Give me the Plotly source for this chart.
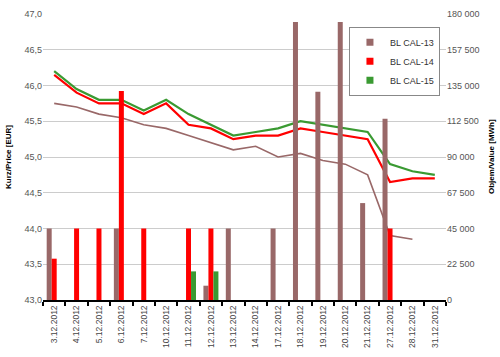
import plotly.graph_objects as go

dates = ["3.12.2012", "4.12.2012", "5.12.2012", "6.12.2012", "7.12.2012",
         "10.12.2012", "11.12.2012", "12.12.2012", "13.12.2012", "14.12.2012",
         "17.12.2012", "18.12.2012", "19.12.2012", "20.12.2012", "21.12.2012",
         "27.12.2012", "28.12.2012", "31.12.2012"]

price_cal13 = [45.75, 45.70, 45.60, 45.55, 45.45, 45.40, 45.30, 45.20, 45.10,
               45.15, 45.00, 45.05, 44.95, 44.90, 44.75, 43.90, 43.85, None]
price_cal14 = [46.15, 45.90, 45.75, 45.75, 45.60, 45.75, 45.45, 45.40, 45.25,
               45.30, 45.30, 45.40, 45.35, 45.30, 45.25, 44.65, 44.70, 44.70]
price_cal15 = [46.20, 45.95, 45.80, 45.80, 45.65, 45.80, 45.60, 45.45, 45.30,
               45.35, 45.40, 45.50, 45.45, 45.40, 45.35, 44.90, 44.80, 44.75]

vol_cal13 = [45000, None, None, 45000, None, None, None, 9000, 45000, None,
             45000, 175000, 131000, 175000, 61000, 114000, None, None]
vol_cal14 = [26000, 45000, 45000, 131500, 45000, None, 45000, 45000, None, None,
             None, None, None, None, None, 45000, None, None]
vol_cal15 = [None, None, None, None, None, None, 18000, 18000, None, None,
             None, None, None, None, None, None, None, None]

names = ["BL CAL-13", "BL CAL-14", "BL CAL-15"]
colors = ["#996868", "#ff0000", "#3a9a32"]
prices = [price_cal13, price_cal14, price_cal15]
vols = [vol_cal13, vol_cal14, vol_cal15]
widths = [1.6, 2.2, 2.2]

FONT = "Liberation Sans, Arial, sans-serif"

fig = go.Figure()

# lines (left axis)
for n, c, p, w in zip(names, colors, prices, widths):
    fig.add_trace(go.Scatter(x=dates, y=p, mode="lines", name=n,
                             line=dict(color=c, width=w), showlegend=False,
                             yaxis="y", connectgaps=False))

# bars (right axis)
for n, c, v in zip(names, colors, vols):
    fig.add_trace(go.Bar(x=dates, y=v, name=n, marker=dict(color=c, line=dict(width=0)),
                         showlegend=False, yaxis="y2"))

# legend entries (square markers)
for n, c in zip(names, colors):
    fig.add_trace(go.Scatter(x=[None], y=[None], mode="markers", name=n,
                             marker=dict(symbol="square", size=7, color=c),
                             showlegend=True))

fig.update_layout(
    width=500, height=357,
    margin=dict(l=43, r=54, t=9, b=51),
    paper_bgcolor="white", plot_bgcolor="white",
    separators=", ",
    barmode="group", bargap=0.33, bargroupgap=0,
    font=dict(family=FONT, size=9, color="#555555"),
    xaxis=dict(type="category", tickangle=-90, tickfont=dict(size=8.5, color="#444444"),
               showline=True, linecolor="black", linewidth=2,
               ticks="outside", tickson="boundaries", ticklen=4, tickwidth=2,
               tickcolor="black", showgrid=False, zeroline=False),
    yaxis=dict(range=[43, 47], dtick=0.5, tickformat=".1f", showgrid=True,
               gridcolor="#cccccc", gridwidth=1, zeroline=False, showline=False,
               ticks="", tickfont=dict(size=9, color="#555555")),
    yaxis2=dict(range=[0, 180000], dtick=22500, tickformat=",d", overlaying="y",
                side="right", showgrid=False, zeroline=False, showline=False,
                ticks="", tickfont=dict(size=9, color="#555555")),
    legend=dict(x=0.985, y=0.955, xanchor="right", yanchor="top",
                bgcolor="white", bordercolor="#888888", borderwidth=1,
                font=dict(size=9, color="#333333"), itemwidth=30,
                tracegroupgap=0),
    annotations=[
        dict(text="<b>Kurz/Price [EUR]</b>", textangle=-90, xref="paper", yref="paper",
             x=0, xshift=-35, y=0.5, xanchor="center", yanchor="middle", showarrow=False,
             font=dict(size=8, color="black")),
        dict(text="<b>Objem/Value [MWh]</b>", textangle=-90, xref="paper", yref="paper",
             x=1, xshift=45, y=0.5, xanchor="center", yanchor="middle", showarrow=False,
             font=dict(size=8, color="black")),
    ],
)

fig.write_html("out.html", config={"displayModeBar": False},
               post_script="document.body.style.margin='0';")
